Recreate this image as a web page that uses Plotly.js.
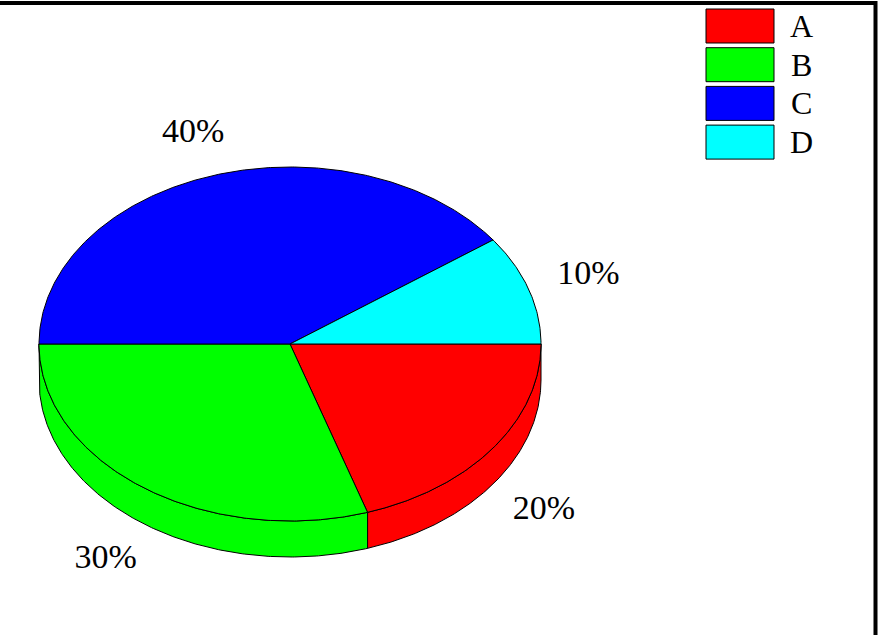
<!DOCTYPE html>
<html>
<head>
<meta charset="utf-8">
<script src="https://cdn.plot.ly/plotly-3.0.1.min.js"></script>
<style>
  html, body { margin: 0; padding: 0; background: #ffffff; }
  #chart { width: 891px; height: 635px; }
</style>
</head>
<body>
<div id="chart"></div>
<script>
// Pie data
const categories = ['A', 'B', 'C', 'D'];
const shares = [20, 30, 40, 10];
const colors = ['#ff0000', '#00ff00', '#0000ff', '#00ffff'];

// Geometry of the tilted (3D) pie, in the plot's pixel-like units
const cx = 290, cy = 344, rx = 251, ry = 177, depth = 36;
const labelScale = 1.25;
const serif = 'Liberation Serif';

const total = shares.reduce((a, b) => a + b, 0);
const traces = [];

function arc(t1, t2, dy) {
  const xs = [], ys = [];
  const n = Math.max(2, Math.ceil((t2 - t1) / (Math.PI / 360)));
  for (let i = 0; i <= n; i++) {
    const t = t1 + (t2 - t1) * i / n;
    xs.push(cx + rx * Math.cos(t));
    ys.push(cy + ry * Math.sin(t) + dy);
  }
  return [xs, ys];
}

// slice angle ranges, clockwise from 3 o'clock
const ranges = [];
let acc = 0;
shares.forEach(v => {
  const t1 = acc / total * 2 * Math.PI;
  acc += v;
  const t2 = acc / total * 2 * Math.PI;
  ranges.push([t1, t2]);
});

// side walls (front half only)
ranges.forEach(([t1, t2], i) => {
  const a = Math.max(t1, 0), b = Math.min(t2, Math.PI);
  if (b <= a) return;
  const [tx, ty] = arc(a, b, 0);
  const [bx, by] = arc(a, b, depth);
  traces.push({
    type: 'scatter', mode: 'lines', fill: 'toself',
    x: tx.concat(bx.slice().reverse(), [tx[0]]),
    y: ty.concat(by.slice().reverse(), [ty[0]]),
    fillcolor: colors[i], line: { color: '#000000', width: 1 },
    hoverinfo: 'skip', showlegend: false
  });
});

// top faces
ranges.forEach(([t1, t2], i) => {
  const [tx, ty] = arc(t1, t2, 0);
  traces.push({
    type: 'scatter', mode: 'lines', fill: 'toself',
    x: [cx].concat(tx, [cx]),
    y: [cy].concat(ty, [cy]),
    fillcolor: colors[i], line: { color: '#000000', width: 1 },
    hoverinfo: 'skip', showlegend: false
  });
});

// percentage labels outside each slice
const lx = [], ly = [], lt = [];
ranges.forEach(([t1, t2], i) => {
  const m = (t1 + t2) / 2;
  const s = Math.sin(m);
  lx.push(cx + labelScale * rx * Math.cos(m));
  ly.push(cy + labelScale * ry * s + (s > 0 ? depth : 0));
  lt.push(Math.round(shares[i] / total * 100) + '%');
});
traces.push({
  type: 'scatter', mode: 'text', x: lx, y: ly, text: lt,
  textposition: 'middle center',
  textfont: { family: serif, size: 34, color: '#000000' },
  hoverinfo: 'skip', showlegend: false
});

// legend boxes and names
const shapes = [];
const annotations = [];
categories.forEach((c, i) => {
  const y0 = 9 + i * 38.7;
  shapes.push({
    type: 'rect', xref: 'x', yref: 'y',
    x0: 706, x1: 774, y0: y0, y1: y0 + 34,
    fillcolor: colors[i], line: { color: '#000000', width: 1 }
  });
  annotations.push({
    xref: 'x', yref: 'y', x: 801, y: y0 + 17, text: c,
    showarrow: false, xanchor: 'center', yanchor: 'middle',
    font: { family: serif, size: 32, color: '#000000' }
  });
});

// frame lines along the top and right edges
shapes.push({ type: 'line', xref: 'x', yref: 'y', x0: 0, x1: 877, y0: 3, y1: 3,
  line: { color: '#000000', width: 4 } });
shapes.push({ type: 'line', xref: 'x', yref: 'y', x0: 875.5, x1: 875.5, y0: 1, y1: 635,
  line: { color: '#000000', width: 4 } });

const layout = {
  width: 891, height: 635,
  margin: { l: 0, r: 0, t: 0, b: 0 },
  paper_bgcolor: '#ffffff', plot_bgcolor: '#ffffff',
  font: { family: serif },
  xaxis: { range: [0, 891], visible: false, fixedrange: true },
  yaxis: { range: [635, 0], visible: false, fixedrange: true },
  showlegend: false,
  shapes: shapes,
  annotations: annotations
};

Plotly.newPlot('chart', traces, layout, { displayModeBar: false });
</script>
</body>
</html>
